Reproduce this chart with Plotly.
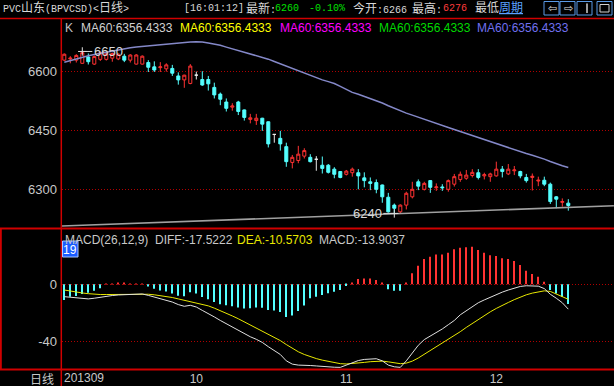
import plotly.graph_objects as go

# ---------------- data ----------------
OPEN = [6628, 6631, 6628, 6620, 6636, 6618, 6630, 6630, 6633, 6631,
        6638, 6628, 6618, 6618, 6622, 6611, 6609, 6606, 6607, 6588,
        6578, 6569, 6590, 6579, 6579, 6559, 6542, 6522, 6509, 6522,
        6502, 6478, 6475, 6481, 6472, 6440, 6430, 6409, 6369, 6374,
        6385, 6382, 6377, 6362, 6362, 6352, 6346, 6339, 6343, 6343,
        6330, 6320, 6318, 6312, 6281, 6261, 6244, 6261, 6282, 6320,
        6301, 6323, 6305, 6307, 6301, 6314, 6326, 6329, 6336, 6343,
        6335, 6333, 6335, 6352, 6340, 6348, 6346, 6331, 6331, 6322,
        6324, 6314, 6282, 6268, 6266]
HIGH = [6645, 6638, 6643, 6650, 6645, 6640, 6649, 6646, 6647, 6645,
        6644, 6643, 6643, 6640, 6628, 6625, 6623, 6620, 6616, 6597,
        6591, 6618, 6599, 6600, 6588, 6571, 6546, 6531, 6519, 6525,
        6503, 6492, 6492, 6482, 6473, 6441, 6449, 6419, 6388, 6411,
        6405, 6390, 6385, 6384, 6365, 6357, 6347, 6350, 6356, 6352,
        6344, 6331, 6326, 6313, 6292, 6265, 6263, 6295, 6320, 6326,
        6320, 6324, 6316, 6314, 6326, 6340, 6346, 6350, 6352, 6352,
        6343, 6343, 6371, 6360, 6365, 6360, 6348, 6340, 6341, 6333,
        6333, 6318, 6284, 6278, 6276]
LOW = [6626, 6620, 6622, 6619, 6617, 6616, 6626, 6627, 6624, 6628,
       6623, 6622, 6617, 6617, 6598, 6598, 6598, 6599, 6588, 6566,
       6558, 6567, 6579, 6563, 6551, 6531, 6514, 6498, 6500, 6489,
       6475, 6468, 6464, 6449, 6407, 6419, 6399, 6358, 6354, 6367,
       6379, 6369, 6348, 6341, 6341, 6329, 6329, 6336, 6333, 6301,
       6306, 6299, 6291, 6267, 6242, 6240, 6241, 6250, 6278, 6299,
       6298, 6292, 6297, 6297, 6295, 6308, 6320, 6325, 6331, 6326,
       6326, 6320, 6333, 6331, 6337, 6337, 6329, 6318, 6298, 6309,
       6309, 6264, 6253, 6257, 6247]
CLOSE = [6643, 6633, 6640, 6647, 6624, 6637, 6647, 6644, 6645, 6643,
         6628, 6641, 6641, 6638, 6610, 6603, 6611, 6616, 6595, 6578,
         6590, 6613, 6590, 6565, 6568, 6540, 6529, 6506, 6512, 6498,
         6483, 6482, 6481, 6466, 6416, 6440, 6416, 6371, 6382, 6390,
         6399, 6371, 6377, 6354, 6344, 6339, 6331, 6347, 6352, 6335,
         6323, 6316, 6301, 6282, 6244, 6253, 6261, 6291, 6301, 6309,
         6316, 6306, 6307, 6305, 6323, 6333, 6339, 6337, 6344, 6331,
         6338, 6340, 6352, 6346, 6352, 6350, 6335, 6323, 6334, 6324,
         6314, 6270, 6276, 6270, 6260]
MA60 = [6622.5, 6627.0, 6631.5, 6636.0, 6639.0, 6642.5, 6645.5, 6648.2, 6651.0, 6653.8,
        6656.5, 6659.3, 6661.2, 6662.8, 6664.3, 6665.8, 6667.4, 6668.8, 6670.3, 6671.9,
        6673.3, 6674.0, 6674.5, 6674.2, 6671.5, 6669.2, 6665.5, 6661.0, 6656.7, 6652.2,
        6647.8, 6643.3, 6639.5, 6635.7, 6630.5, 6624.5, 6618.5, 6612.5, 6606.5, 6600.4,
        6594.6, 6588.7, 6582.7, 6578.0, 6573.7, 6568.9, 6561.5, 6554.0, 6546.5, 6541.5,
        6536.5, 6531.5, 6525.3, 6519.6, 6512.5, 6505.6, 6498.9, 6493.8, 6488.9, 6484.0,
        6479.0, 6474.0, 6469.3, 6463.4, 6457.5, 6452.4, 6447.3, 6442.3, 6437.2, 6432.0,
        6427.2, 6422.2, 6416.4, 6411.0, 6405.8, 6400.4, 6395.8, 6391.5, 6387.3, 6383.2,
        6377.5, 6371.5, 6365.6, 6360.6, 6356.43]
TREND_X = [-0.4, 91.6]
TREND_Y = [6208.0, 6259.5]

DIFF = [-8.7, -9.2, -9.7, -10.2, -10.3, -9.8, -9.0, -8.3, -7.9, -7.5,
        -7.2, -7.0, -6.8, -6.8, -7.8, -9.0, -10.0, -11.0, -12.5, -14.3,
        -15.5, -14.8, -16.0, -18.4, -20.5, -23.0, -25.5, -27.8, -30.0, -32.5,
        -35.0, -37.0, -38.8, -41.0, -44.0, -46.5, -49.5, -54.0, -56.3, -57.0,
        -57.0, -57.3, -57.6, -58.0, -58.3, -58.5, -58.6, -57.0, -55.0, -53.8,
        -53.0, -52.5, -52.5, -54.0, -57.0, -58.2, -58.6, -54.0, -48.5, -43.0,
        -39.0, -36.5, -34.5, -31.5, -28.5, -25.5, -21.5, -18.5, -15.5, -13.0,
        -11.0, -9.0, -7.0, -5.5, -4.0, -2.5, -1.5, -1.0, -1.0, -1.3,
        -3.0, -7.0, -9.8, -13.0, -17.5222]
DEA = [-4.0, -4.8, -5.5, -6.1, -6.6, -7.0, -7.2, -7.2, -7.1, -7.0,
       -6.9, -6.9, -6.8, -6.8, -7.0, -7.4, -7.9, -8.5, -9.3, -10.3,
       -11.3, -12.0, -12.8, -13.9, -15.2, -16.8, -18.5, -20.4, -22.3, -24.3,
       -26.5, -28.6, -30.6, -32.7, -34.9, -37.3, -39.7, -42.5, -45.3, -47.6,
       -49.5, -51.1, -52.4, -53.5, -54.5, -55.3, -56.0, -56.2, -56.0, -55.6,
       -55.1, -54.6, -54.2, -54.2, -54.7, -55.4, -56.0, -55.6, -54.2, -52.0,
       -49.4, -46.8, -44.4, -41.8, -39.2, -36.4, -33.4, -30.4, -27.5, -24.6,
       -21.7, -19.4, -17.0, -14.7, -12.8, -10.8, -8.9, -7.4, -6.2, -5.3,
       -4.6, -5.0, -6.7, -8.6, -10.5703]
MACD = [-11.0, -8.7, -8.2, -6.8, -5.9, -4.6, -2.8, 0.3, 0.5, 0.6,
        0.6, 0.5, 0.4, 0.3, -1.5, -3.2, -4.3, -5.0, -6.4, -8.0,
        -8.4, -5.6, -6.4, -9.0, -10.6, -12.4, -14.0, -14.8, -15.4, -16.4,
        -17.0, -16.8, -16.4, -16.6, -18.2, -18.4, -19.6, -23.0, -22.0, -18.8,
        -15.0, -9.9, -8.7, -7.5, -6.3, -5.2, -4.0, -1.2, 0.6, 3.7,
        4.2, 4.2, 3.1, 1.3, -3.5, -4.5, -4.6, 1.3, 7.8, 13.1,
        17.8, 19.5, 21.1, 21.1, 22.3, 24.7, 25.8, 26.1, 26.5, 24.2,
        22.3, 20.6, 20.0, 18.4, 17.8, 16.4, 13.6, 9.6, 7.3, 5.4,
        1.9, -4.0, -6.5, -9.0, -13.9037]

PRICE_TICKS = [6300, 6450, 6600]
MACD_TICKS = [0, -40]
MACD_TICKTEXT = ["0", "-40"]
MONTH_POS = [22, 47, 72]
MONTH_LABELS = ["10", "11", "12"]
FIRST_LABEL = "201309"
HIGH_MARK = (3, 6650)
LOW_MARK = (55, 6240)

# ---------------- styling ----------------
W, H = 614, 386
ML, MR, MT, MB = 62, 0, 18, 16
PW, PH = W - ML - MR, H - MT - MB
SPLIT = 228.5
RED = "#ff3232"
CYAN = "#54ffff"
GRID = "#b00000"
BORDER = "#d00000"
TXT = "#c8c8c8"
SANS = "Liberation Sans, Arial, sans-serif"
MONO = "Liberation Mono, Noto Sans CJK SC, monospace"


def px(xp):
    return (xp - ML) / PW


def py(yp):
    return (H - MB - yp) / PH


N = len(CLOSE)
idx = list(range(N))
sel_up = [i for i in idx if CLOSE[i] > OPEN[i]]
sel_dn = [i for i in idx if CLOSE[i] < OPEN[i]]
sel_eq = [i for i in idx if CLOSE[i] == OPEN[i]]


def candles(sel, line_col, fill_col):
    style = dict(line=dict(color=line_col, width=1), fillcolor=fill_col)
    return go.Candlestick(
        x=sel, open=[OPEN[i] for i in sel], high=[HIGH[i] for i in sel],
        low=[LOW[i] for i in sel], close=[CLOSE[i] for i in sel],
        increasing=style, decreasing=style, whiskerwidth=0,
        xaxis="x", yaxis="y", showlegend=False, hoverinfo="skip")


fig = go.Figure()
fig.add_trace(go.Scatter(x=TREND_X, y=TREND_Y, mode="lines",
                         line=dict(color="#a0a0a0", width=1.6),
                         xaxis="x", yaxis="y", showlegend=False, hoverinfo="skip"))
fig.add_trace(candles(sel_up, RED, "#000000"))
fig.add_trace(candles(sel_dn, CYAN, CYAN))
fig.add_trace(candles(sel_eq, "#e8e8e8", "#e8e8e8"))
fig.add_trace(go.Scatter(x=idx, y=MA60, mode="lines",
                         line=dict(color="#8488c8", width=1.5),
                         xaxis="x", yaxis="y", showlegend=False, hoverinfo="skip"))
# small cross markers at the marked extremes
fig.add_trace(go.Scatter(x=[HIGH_MARK[0], LOW_MARK[0]], y=[HIGH_MARK[1], LOW_MARK[1]],
                         mode="markers", marker=dict(symbol="cross-thin", size=6,
                                                     line=dict(color="#e0e0e0", width=1)),
                         xaxis="x", yaxis="y", showlegend=False, hoverinfo="skip"))

fig.add_trace(go.Bar(x=idx, y=MACD, width=0.16,
                     marker=dict(color=[RED if v > 0 else CYAN for v in MACD], line=dict(width=0)),
                     xaxis="x2", yaxis="y2", showlegend=False, hoverinfo="skip"))
fig.add_trace(go.Scatter(x=idx, y=DEA, mode="lines", line=dict(color="#e8e800", width=1),
                         xaxis="x2", yaxis="y2", showlegend=False, hoverinfo="skip"))
fig.add_trace(go.Scatter(x=idx, y=DIFF, mode="lines", line=dict(color="#e0e0e0", width=1),
                         xaxis="x2", yaxis="y2", showlegend=False, hoverinfo="skip"))

xr = [-0.383, (W - ML) / 6 - 0.383]
split_dom = py(SPLIT)

fig.update_layout(
    width=W, height=H, margin=dict(l=ML, r=MR, t=MT, b=MB),
    paper_bgcolor="#000000", plot_bgcolor="#000000",
    font=dict(family=SANS, color=TXT, size=12),
    showlegend=False, boxgap=0.28,
    xaxis=dict(domain=[0, 1], range=xr, anchor="y", showticklabels=False, showgrid=False,
               zeroline=False, showline=False, ticks="", rangeslider=dict(visible=False)),
    xaxis2=dict(domain=[0, 1], range=xr, anchor="y2", showgrid=False, zeroline=False,
                showline=False, ticks="", tickvals=MONTH_POS, ticktext=MONTH_LABELS,
                ticklabelstandoff=0,
                tickfont=dict(color=TXT, size=12, family=SANS)),
    yaxis=dict(domain=[split_dom, 1], range=[6201.8, 6734.7], tickvals=PRICE_TICKS,
               showgrid=True, gridcolor=GRID, griddash="1px,2px", gridwidth=1,
               zeroline=False, showline=False, ticks="", ticklabelstandoff=4,
               tickfont=dict(color=TXT, size=13, family=SANS)),
    yaxis2=dict(domain=[0, split_dom], range=[-60.46, 39.4], tickvals=MACD_TICKS,
                ticktext=MACD_TICKTEXT, showgrid=True, gridcolor=GRID, griddash="1px,2px",
                gridwidth=1, zeroline=False, showline=False, ticks="", ticklabelstandoff=4,
                tickfont=dict(color=TXT, size=13, family=SANS)),
)

shapes = []


def hline(yp, x0=0, x1=W, color=BORDER, width=1.5):
    shapes.append(dict(type="line", xref="paper", yref="paper", x0=px(x0), x1=px(x1),
                       y0=py(yp), y1=py(yp), line=dict(color=color, width=width)))


def vline(xp, y0, y1, color=BORDER, width=1.5):
    shapes.append(dict(type="line", xref="paper", yref="paper", x0=px(xp), x1=px(xp),
                       y0=py(y0), y1=py(y1), line=dict(color=color, width=width)))


def rect(x0, y0, x1, y1, line_col, fill=None, width=1):
    d = dict(type="rect", xref="paper", yref="paper", x0=px(x0), x1=px(x1),
             y0=py(y1), y1=py(y0), line=dict(color=line_col, width=width))
    if fill:
        d["fillcolor"] = fill
    shapes.append(d)


hline(18.5)
hline(SPLIT, width=2)
hline(369.5, width=2)
vline(61.3, 18, 386)
vline(0.8, SPLIT, 369.5, width=2)

# toolbar icons
for x0 in (544, 560, 577, 597):
    rect(x0, 1.5, x0 + 15, 15, "#5a9ae6")
rect(587, 3.5, 587, 13, "#d0d0d0")
rect(600, 4.5, 609, 12, "#d0d0d0")

# "19" box
rect(62.5, 241, 78, 257, "#a8c4ff", fill="#1a5cff")

fig.update_layout(shapes=shapes)

ann = []


def text(xp, yp, s, color=TXT, size=12, family=SANS, anchor="left"):
    ann.append(dict(xref="paper", yref="paper", x=px(xp), y=py(yp), text=s,
                    showarrow=False, xanchor=anchor, yanchor="middle",
                    font=dict(color=color, size=size, family=family)))


cj = "<span style='font-size:12px'>%s</span>"
text(1, 9, "PVC" + cj % "山东" + "(BPVCSD)&lt;" + cj % "日线" + "&gt;", "#d8d8d8", 10, MONO)
text(182, 9, "[16:01:12]", "#d8d8d8", 10, MONO)
text(244, 9, cj % "最新" + ":", "#d8d8d8", 10, MONO)
text(273, 9, "6260", "#00e000", 10, MONO)
text(307, 9, "-0.10%", "#00e000", 10, MONO)
text(351, 9, cj % "今开" + ":6266", "#d8d8d8", 10, MONO)
text(410, 9, cj % "最高" + ":", "#d8d8d8", 10, MONO)
text(441, 9, "6276", "#ff3c3c", 10, MONO)
text(473, 9, cj % "最低", "#d8d8d8", 10, MONO)
text(497, 9, "<u>" + cj % "周期" + "</u>", "#5aa0ff", 10, MONO)
text(546, 8.5, "⇦", "#e0e0e0", 11, "DejaVu Sans")
text(562, 8.5, "⇨", "#e0e0e0", 11, "DejaVu Sans")

text(63, 28, "K", "#c0c0c0", 12)
ma_cols = ["#d0d0d0", "#ffff00", "#ff00ff", "#00d800", "#7070f0"]
ma_x = [79, 178, 278, 377, 475]
for xx, col in zip(ma_x, ma_cols):
    text(xx, 28, "MA60:6356.4333", col, 12)

text(63, 239.5, "MACD(26,12,9)", "#c8c8c8", 12)
text(153, 239.5, "DIFF:-17.5222", "#c8c8c8", 12)
text(235, 239.5, "DEA:-10.5703", "#e8e800", 12)
text(317, 239.5, "MACD:-13.9037", "#c8c8c8", 12)
text(70.3, 249.5, "19", "#ffffff", 12, SANS, "center")

text(56, 378, "日线", TXT, 12, "Noto Sans CJK SC", "right")
text(62, 378, FIRST_LABEL, TXT, 12)

for (xi, yv), ax in ((HIGH_MARK, 26), (LOW_MARK, -27)):
    ann.append(dict(xref="x", yref="y", x=xi, y=yv, text=str(yv), showarrow=True,
                    ax=ax, ay=0, arrowhead=0, arrowwidth=1, arrowcolor="#d8d8d8",
                    font=dict(color="#d8d8d8", size=13, family=SANS)))

fig.update_layout(annotations=ann)
fig.write_html(
    "out.html",
    config={"displayModeBar": False},
    post_script="document.body.style.margin='0';document.body.style.padding='0';"
                "document.body.style.overflow='hidden';"
                "document.documentElement.style.overflow='hidden';",
)
